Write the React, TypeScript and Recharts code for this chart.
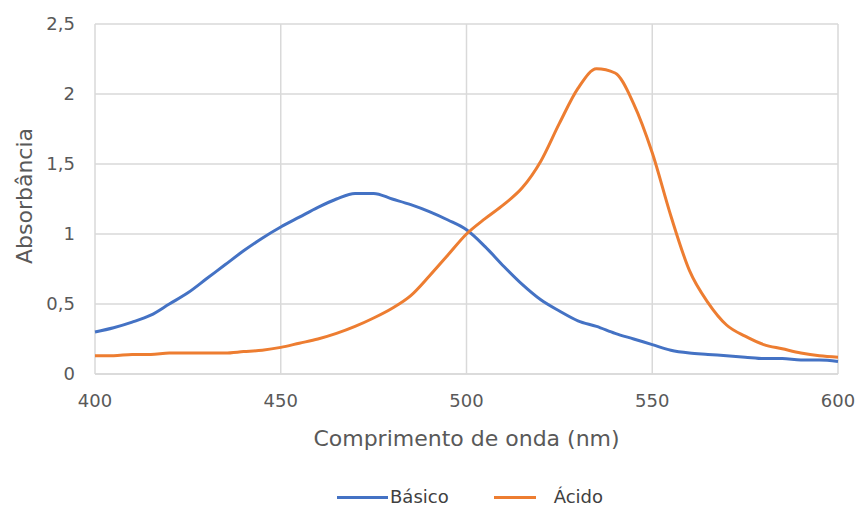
import { LineChart, Line, XAxis, YAxis, CartesianGrid, Legend, Label } from "recharts";

const wavelengths = [
  400, 405, 410, 415, 420, 425, 430, 435, 440, 445, 450, 455, 460, 465, 470, 475, 480, 485, 490, 495,
  500, 505, 510, 515, 520, 525, 530, 535, 540, 545, 550, 555, 560, 565, 570, 575, 580, 585, 590, 595, 600,
];

const basico = [
  0.3, 0.33, 0.37, 0.42, 0.5, 0.58, 0.68, 0.78, 0.88, 0.97, 1.05, 1.12, 1.19, 1.25, 1.29, 1.29, 1.25, 1.21, 1.16, 1.1,
  1.03, 0.91, 0.77, 0.64, 0.53, 0.45, 0.38, 0.34, 0.29, 0.25, 0.21, 0.17, 0.15, 0.14, 0.13, 0.12, 0.11, 0.11, 0.1, 0.1, 0.09,
];

const acido = [
  0.13, 0.13, 0.14, 0.14, 0.15, 0.15, 0.15, 0.15, 0.16, 0.17, 0.19, 0.22, 0.25, 0.29, 0.34, 0.4, 0.47, 0.56, 0.7, 0.85,
  1.0, 1.11, 1.21, 1.33, 1.52, 1.79, 2.04, 2.18, 2.15, 1.93, 1.58, 1.13, 0.74, 0.51, 0.35, 0.27, 0.21, 0.18, 0.15, 0.13, 0.12,
];

const xTicks = [400, 450, 500, 550, 600];
const yTicks = [0, 0.5, 1, 1.5, 2, 2.5];

const data = wavelengths.map((nm, i) => ({ nm, basico: basico[i], acido: acido[i] }));

const font = "'DejaVu Sans', sans-serif";
const gray = "#595959";

const fmt = (v: number) => String(v).replace(".", ",");

function LegendContent(props: any) {
  const items = props.payload || [];
  return (
    <div style={{ display: "flex", fontFamily: font, fontSize: 18, color: "#404040", whiteSpace: "nowrap", height: 20, lineHeight: "20px" }}>
      {items.map((it: any, i: number) => (
        <div key={i} style={{ display: "flex", alignItems: "center", marginRight: i === 0 ? 45 : 0 }}>
          <span style={{ display: "inline-block", width: i === 0 ? 51 : 42, height: 3, background: it.color, marginRight: i === 0 ? 2 : 18 }} />
          <span>{it.value}</span>
        </div>
      ))}
    </div>
  );
}

export default function App() {
  return (
    <div style={{ position: "absolute", left: 0, top: 0, background: "#fff" }}>
      <LineChart width={859} height={508} data={data} margin={{ top: 24, right: 21, bottom: 44, left: 0 }}>
        <CartesianGrid stroke="#d9d9d9" strokeWidth={1.5} />
        <XAxis
          type="number"
          dataKey="nm"
          domain={[400, 600]}
          ticks={xTicks}
          tickLine={false}
          tickSize={0}
          tickMargin={20}
          axisLine={{ stroke: "#d9d9d9", strokeWidth: 1.5 }}
          tick={{ fill: gray, fontSize: 18, fontFamily: font }}
          height={70}
        >
          <Label value="Comprimento de onda (nm)" position="insideTop" offset={56} fill={gray} fontSize={22} fontFamily={font} />
        </XAxis>
        <YAxis
          type="number"
          domain={[0, 2.5]}
          ticks={yTicks}
          tickFormatter={fmt}
          axisLine={false}
          tickLine={false}
          tickSize={0}
          tickMargin={20}
          width={95}
          tick={{ fill: gray, fontSize: 18, fontFamily: font }}
        >
          <Label value="Absorbância" position="center" angle={-90} dx={-23} dy={-3} fill={gray} fontSize={22} fontFamily={font} />
        </YAxis>
        <Legend
          content={<LegendContent />}
          wrapperStyle={{ position: "absolute", left: 337, top: 487, width: 320 }}
        />
        <Line type="monotone" dataKey="basico" name="Básico" stroke="#4472C4" strokeWidth={3} dot={false} isAnimationActive={false} />
        <Line type="monotone" dataKey="acido" name="Ácido" stroke="#ED7D31" strokeWidth={3} dot={false} isAnimationActive={false} />
      </LineChart>
    </div>
  );
}
